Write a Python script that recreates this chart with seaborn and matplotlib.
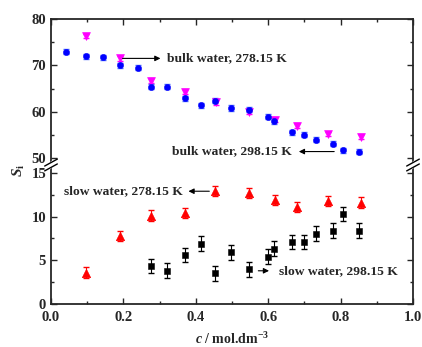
import numpy as np
import pandas as pd
import matplotlib
matplotlib.use("Agg")
import matplotlib.pyplot as plt
import seaborn as sns

# bulk water, 298.15 K (blue circles)
c_bulk298 = [0.042, 0.096, 0.145, 0.19, 0.241, 0.276, 0.321, 0.370, 0.413, 0.452,
             0.498, 0.546, 0.600, 0.617, 0.666, 0.698, 0.731, 0.778, 0.807, 0.851]
s_bulk298 = [72.9, 72.0, 71.7, 70.0, 69.5, 65.4, 65.4, 62.9, 61.4, 62.4,
             60.8, 60.4, 58.9, 58.0, 55.6, 55.0, 54.0, 53.1, 51.7, 51.4]
# bulk water, 278.15 K (magenta down triangles)
c_bulk278 = [0.096, 0.19, 0.276, 0.370, 0.455, 0.546, 0.620, 0.680, 0.765, 0.855]
s_bulk278 = [76.3, 71.5, 66.7, 64.3, 62.0, 60.0, 58.3, 57.0, 55.2, 54.6]
# slow water, 278.15 K (red triangles)
c_slow278 = [0.096, 0.19, 0.276, 0.370, 0.454, 0.548, 0.620, 0.680, 0.765, 0.855]
s_slow278 = [3.6, 7.8, 10.1, 10.4, 12.9, 12.7, 11.9, 11.1, 11.8, 11.6]
# slow water, 298.15 K (black squares)
c_slow298 = [0.276, 0.321, 0.370, 0.413, 0.452, 0.498, 0.546, 0.600, 0.617, 0.666,
             0.698, 0.731, 0.778, 0.807, 0.851]
s_slow298 = [4.35, 3.8, 5.6, 6.9, 3.5, 5.9, 3.95, 5.4, 6.3, 7.1,
             7.1, 8.05, 8.4, 10.3, 8.4]

sns.set_style("ticks")
plt.rcParams["font.family"] = ["Liberation Serif", "DejaVu Serif"]
plt.rcParams["font.weight"] = "bold"
plt.rcParams["mathtext.fontset"] = "custom"
plt.rcParams["mathtext.it"] = "Liberation Serif:italic:bold"
plt.rcParams["mathtext.rm"] = "Liberation Serif:bold"

fig = plt.figure(figsize=(4.22, 3.47), dpi=100)
W, H = 422, 347
left, right = 51 / W, 413 / W
ax_top = fig.add_axes([left, 1 - 165 / H, right - left, (165 - 19) / H])
ax_bot = fig.add_axes([left, 1 - 304 / H, right - left, (304 - 165) / H])

df_b298 = pd.DataFrame({"c": c_bulk298, "S": s_bulk298})
df_b278 = pd.DataFrame({"c": c_bulk278, "S": s_bulk278})
df_s278 = pd.DataFrame({"c": c_slow278, "S": s_slow278})
df_s298 = pd.DataFrame({"c": c_slow298, "S": s_slow298})

ax_top.errorbar(df_b278["c"], df_b278["S"], yerr=0.5, fmt="none", ecolor="magenta",
                elinewidth=0.8, capsize=2, zorder=2)
sns.scatterplot(data=df_b278, x="c", y="S", ax=ax_top, marker="v", color="magenta",
                s=32, edgecolor="magenta", zorder=3)
ax_top.errorbar(df_b298["c"], df_b298["S"], yerr=0.55, fmt="none", ecolor="#5070ff",
                elinewidth=0.8, capsize=2, zorder=2)
sns.scatterplot(data=df_b298, x="c", y="S", ax=ax_top, marker="o", color="blue",
                s=20, edgecolor="blue", zorder=4)

ax_bot.errorbar(df_s278["c"], df_s278["S"], yerr=0.6, fmt="none", ecolor="red",
                elinewidth=0.8, capsize=2, zorder=2)
sns.scatterplot(data=df_s278, x="c", y="S", ax=ax_bot, marker="^", color="red",
                s=36, edgecolor="red", zorder=3)
ax_bot.errorbar(df_s298["c"], df_s298["S"], yerr=0.85, fmt="none", ecolor="black",
                elinewidth=0.8, capsize=2, zorder=2)
sns.scatterplot(data=df_s298, x="c", y="S", ax=ax_bot, marker="s", color="black",
                s=22, edgecolor="black", zorder=3)

for ax in (ax_top, ax_bot):
    ax.set_xlim(0, 1.0)
    ax.set_xlabel("")
    ax.set_ylabel("")
    for sp in ax.spines.values():
        sp.set_linewidth(1.3)
        sp.set_visible(True)
    ax.tick_params(direction="in", which="both", top=True, right=True, labelsize=10.5, width=1)
    ax.tick_params(which="major", length=4)
    ax.tick_params(which="minor", length=2.5)
    ax.tick_params(axis="x", pad=5)
    ax.set_xticks(np.arange(0, 1.01, 0.2))
    ax.set_xticks(np.arange(0.1, 1.0, 0.2), minor=True)

ax_top.set_ylim(48.5, 80)
ax_top.set_yticks([50, 60, 70, 80])
ax_top.set_yticks([55, 65, 75], minor=True)
ax_top.spines["bottom"].set_visible(False)
ax_top.tick_params(which="both", bottom=False, labelbottom=False)

ax_bot.set_ylim(0, 15.9)
ax_bot.set_yticks([0, 5, 10, 15])
ax_bot.set_yticks([2.5, 7.5, 12.5], minor=True)
ax_bot.spines["top"].set_visible(False)
ax_bot.tick_params(which="both", top=False)
ax_bot.set_xticklabels(["0.0", "0.2", "0.4", "0.6", "0.8", "1.0"])
for lab in ax_top.get_yticklabels() + ax_bot.get_yticklabels() + ax_bot.get_xticklabels():
    lab.set_fontweight("bold")

# break marks
yb = 1 - 165 / H
for xb in (left, right):
    fig.add_artist(plt.Line2D([xb - 0.006, xb + 0.006], [yb - 0.006, yb + 0.006],
                              color="white", lw=4, transform=fig.transFigure, zorder=5))
    for dy in (-0.007, 0.007):
        fig.add_artist(plt.Line2D([xb - 0.015, xb + 0.015], [yb + dy - 0.01, yb + dy + 0.01],
                                  color="black", lw=1, transform=fig.transFigure, zorder=6))

fs = 9.7
ax_top.annotate("bulk water, 278.15 K", xy=(0.32, 71.5), xytext=(0.32, 71.5),
                fontsize=fs, fontweight="bold", va="center", ha="left")
ax_top.annotate("", xy=(0.31, 71.5), xytext=(0.19, 71.5),
                arrowprops=dict(arrowstyle="-|>", color="black", lw=0.8, mutation_scale=8))
ax_top.annotate("bulk water, 298.15 K", xy=(0.665, 51.4), xytext=(0.665, 51.4),
                fontsize=fs, fontweight="bold", va="center", ha="right")
ax_top.annotate("", xy=(0.677, 51.4), xytext=(0.79, 51.4),
                arrowprops=dict(arrowstyle="-|>", color="black", lw=0.8, mutation_scale=8))
ax_bot.annotate("slow water, 278.15 K", xy=(0.365, 12.9), xytext=(0.365, 12.9),
                fontsize=fs, fontweight="bold", va="center", ha="right")
ax_bot.annotate("", xy=(0.372, 12.9), xytext=(0.445, 12.9),
                arrowprops=dict(arrowstyle="-|>", color="black", lw=0.8, mutation_scale=8))
ax_bot.annotate("slow water, 298.15 K", xy=(0.63, 3.8), xytext=(0.63, 3.8),
                fontsize=fs, fontweight="bold", va="center", ha="left")
ax_bot.annotate("", xy=(0.61, 3.8), xytext=(0.565, 3.8),
                arrowprops=dict(arrowstyle="-|>", color="black", lw=0.8, mutation_scale=8))

fig.text(0.045, 1 - 170 / H, r"$S_\mathrm{i}$", rotation=90, fontsize=11,
         ha="center", va="center")
fig.text((left + right) / 2, 1 - 339 / H, r"$c$ / mol.dm$^{-3}$", fontsize=10,
         fontweight="bold", ha="center", va="center")

fig.savefig("out.png", dpi=100)
